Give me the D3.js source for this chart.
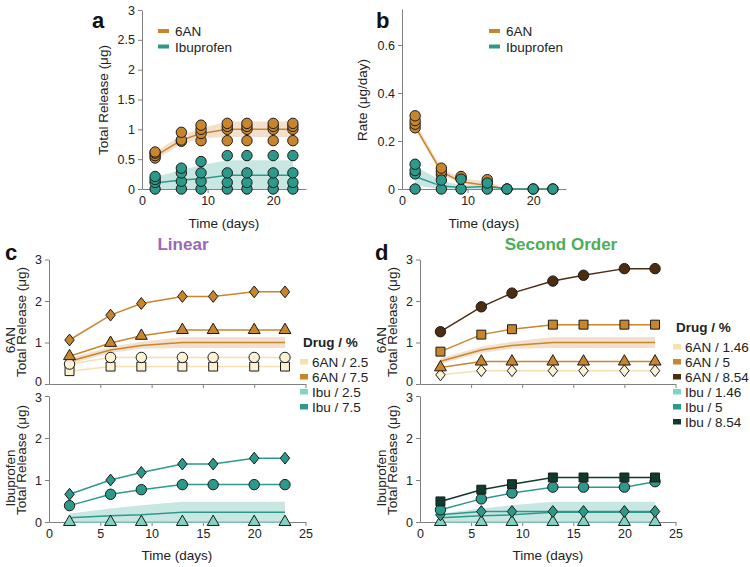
<!DOCTYPE html>
<html>
<head>
<meta charset="utf-8">
<script src="https://cdn.jsdelivr.net/npm/d3@7"></script>
<style>
  body { margin: 0; background: #fff; }
  svg { font-family: "Liberation Sans", Arial, sans-serif; }
</style>
</head>
<body>
<svg id="chart" width="750" height="567"></svg>
<script>
// sampling days
const days = [2, 6, 9, 13, 16, 20, 23];

// panel a: replicate totals (ug)
const repAN = [
  [0.52, 0.56, 0.6, 0.62],
  [0.8, 0.82, 0.95],
  [0.81, 0.93, 1.0, 1.07],
  [0.81, 1.0, 1.05, 1.1],
  [0.81, 1.0, 1.05, 1.1],
  [0.81, 1.0, 1.05, 1.1],
  [0.81, 1.0, 1.05, 1.1]
];
const repIbu = [
  [0, 0.11, 0.16, 0.21],
  [0, 0.13, 0.27, 0.35],
  [0, 0.13, 0.27, 0.46],
  [0, 0.11, 0.27, 0.56],
  [0, 0.11, 0.27, 0.56],
  [0, 0.11, 0.27, 0.56],
  [0, 0.11, 0.27, 0.56]
];
const meanAN = [0.55, 0.82, 0.93, 1.0, 1.0, 1.0, 1.0];
const loAN = [0.49, 0.75, 0.85, 0.87, 0.87, 0.87, 0.87];
const hiAN = [0.62, 0.9, 1.02, 1.13, 1.13, 1.13, 1.13];
const meanIbu = [0.1, 0.15, 0.17, 0.23, 0.23, 0.23, 0.23];
const loIbu = [0, 0, 0, 0, 0, 0, 0];
const hiIbu = [0.2, 0.32, 0.4, 0.48, 0.48, 0.48, 0.48];

// panel b: release rate (ug/day)
const rateAN = [[0.255, 0.27, 0.285, 0.305], [0.06, 0.073, 0.087], [0.045, 0.052], [0.028, 0.039], [0], [0], [0]];
const rateIbu = [[0, 0.063, 0.077, 0.103], [0, 0.037], [0, 0.041], [0, 0.025], [0], [0], [0]];
const rateMeanAN = [0.26, 0.072, 0.03, 0.015, 0, 0, 0];
const rateLoAN = [0.25, 0.06, 0.022, 0.005, 0, 0, 0];
const rateHiAN = [0.28, 0.085, 0.045, 0.03, 0, 0, 0];
const rateMeanIbu = [0.052, 0.012, 0.006, 0.01, 0, 0, 0];
const rateLoIbu = [0.015, 0, 0, 0, 0, 0, 0];
const rateHiIbu = [0.095, 0.035, 0.015, 0.02, 0, 0, 0];

// panel c: linear
const linAN75a = [1.06, 1.66, 1.94, 2.11, 2.11, 2.22, 2.22];
const linAN75b = [0.67, 0.99, 1.16, 1.3, 1.3, 1.3, 1.3];
const linAN25a = [0.48, 0.64, 0.64, 0.64, 0.64, 0.64, 0.64];
const linAN25b = [0.31, 0.42, 0.42, 0.42, 0.42, 0.42, 0.42];
const linIbu75a = [0.66, 1.0, 1.18, 1.38, 1.38, 1.52, 1.52];
const linIbu75b = [0.39, 0.66, 0.77, 0.89, 0.89, 0.89, 0.89];
const linIbu25a = [0, 0, 0, 0, 0, 0, 0];
const linLegend = ['6AN / 2.5', '6AN / 7.5', 'Ibu / 2.5', 'Ibu / 7.5'];

// panel d: second order
const soAN854 = [1.26, 1.86, 2.19, 2.48, 2.62, 2.78, 2.78];
const soAN5a = [0.78, 1.19, 1.32, 1.43, 1.43, 1.43, 1.43];
const soAN5b = [0.4, 0.54, 0.54, 0.54, 0.54, 0.54, 0.54];
const soAN146 = [0.22, 0.32, 0.32, 0.32, 0.32, 0.32, 0.32];
const soIbu854 = [0.49, 0.77, 0.9, 1.06, 1.06, 1.06, 1.06];
const soIbu5a = [0.29, 0.55, 0.69, 0.83, 0.83, 0.83, 0.96];
const soIbu5b = [0.17, 0.25, 0.25, 0.25, 0.25, 0.25, 0.25];
const soIbu146 = [0, 0, 0, 0, 0, 0, 0];
const soLegend = ['6AN / 1.46', '6AN / 5', '6AN / 8.54', 'Ibu / 1.46', 'Ibu / 5', 'Ibu / 8.54'];

const C = {
  an: '#c9852c', anLight: '#f5e0b0', anLightFill: '#fcf1d4', anDark: '#4e2c10',
  ibu: '#2b9a8b', ibuLight: '#80d5c2', ibuDark: '#0f3b2e',
  anBand: '#f2e0cc', ibuBand: '#c9e7e2', axis: '#808080', text: '#222'
};

const svg = d3.select('#chart');

// custom diamond, a bit squatter than d3's
const diamond = {
  draw(ctx, size) {
    const h = Math.sqrt(size / 1.6), w = h * 0.8;
    ctx.moveTo(0, -h); ctx.lineTo(w, 0); ctx.lineTo(0, h); ctx.lineTo(-w, 0); ctx.closePath();
  }
};
const SHAPES = {
  circle: [d3.symbolCircle, 85],
  square: [d3.symbolSquare, 80],
  triangle: [d3.symbolTriangle, 62],
  diamond: [diamond, 56]
};

function axes(o) {
  const x = d3.scaleLinear().domain([0, 25]).range([o.left, o.right]);
  const y = d3.scaleLinear().domain([0, o.ymax]).range([o.bottom, o.top]);
  const gx = svg.append('g')
    .attr('transform', `translate(0,${o.bottom})`)
    .call(d3.axisBottom(x).tickValues(o.xt).tickSize(4).tickSizeOuter(0)
      .tickFormat(o.xlab ? d3.format('d') : ''));
  const gy = svg.append('g')
    .attr('transform', `translate(${o.left},0)`)
    .call(d3.axisLeft(y).tickValues(o.yt).tickSize(4).tickSizeOuter(0)
      .tickFormat(d3.format('~g')));
  [gx, gy].forEach((g) => {
    g.select('.domain').attr('stroke', C.axis);
    g.selectAll('.tick line').attr('stroke', C.axis);
    g.selectAll('.tick text').attr('font-size', 12.5).attr('fill', C.text).attr('font-family', null);
  });
  gx.select('.tick line').remove();
  // stacked panels: nudge the end labels apart
  if (o.nudge === 'up') gy.selectAll('.tick text').filter((d) => d === 0).attr('dy', '0.1em');
  if (o.nudge === 'down') gy.selectAll('.tick text').filter((d) => d === o.ymax).attr('dy', '0.45em');
  const g = svg.append('g');
  return { x, y, g };
}

function band(p, lo, hi, color) {
  p.g.append('path')
    .datum(days.map((d, i) => [d, lo[i], hi[i]]))
    .attr('fill', color)
    .attr('d', d3.area().x((d) => p.x(d[0])).y0((d) => p.y(d[1])).y1((d) => p.y(d[2])));
}

function line(p, vals, color, w) {
  p.g.append('path')
    .datum(days.map((d, i) => [d, vals[i]]))
    .attr('fill', 'none')
    .attr('stroke', color)
    .attr('stroke-width', w || 1.5)
    .attr('d', d3.line().x((d) => p.x(d[0])).y((d) => p.y(d[1])));
}

function markers(p, pts, shape, fill) {
  const [type, size] = SHAPES[shape];
  p.g.append('g')
    .selectAll('path')
    .data(pts)
    .join('path')
    .attr('transform', (d) => `translate(${p.x(d[0])},${p.y(d[1])})`)
    .attr('d', d3.symbol().type(type).size(size))
    .attr('fill', fill)
    .attr('stroke', '#1a1a1a')
    .attr('stroke-width', 1);
}

const series = (vals) => days.map((d, i) => [d, vals[i]]);
const reps = (arr) => arr.flatMap((vs, i) => vs.map((v) => [days[i], v]));

function text(x, y, str, opts) {
  const t = svg.append('text').attr('x', x).attr('y', y).text(str)
    .attr('font-size', opts.size || 13).attr('fill', opts.fill || C.text);
  if (opts.anchor) t.attr('text-anchor', opts.anchor);
  if (opts.bold) t.attr('font-weight', 'bold');
  if (opts.rotate) t.attr('transform', `rotate(-90,${x},${y})`);
  return t;
}

// ---- panel a
const pa = axes({ left: 142, right: 306, bottom: 189, top: 10, ymax: 3, xt: [0, 10, 20], xlab: true, yt: [0, 0.5, 1, 1.5, 2, 2.5, 3] });
band(pa, loAN, hiAN, C.anBand);
band(pa, loIbu, hiIbu, C.ibuBand);
line(pa, meanAN, C.an);
line(pa, meanIbu, C.ibu);
markers(pa, reps(repAN), 'circle', C.an);
markers(pa, reps(repIbu), 'circle', C.ibu);

// ---- panel b
const pb = axes({ left: 402, right: 566, bottom: 189, top: 9, ymax: 0.75, xt: [0, 10, 20], xlab: true, yt: [0, 0.2, 0.4, 0.6] });
band(pb, rateLoAN, rateHiAN, C.anBand);
band(pb, rateLoIbu, rateHiIbu, C.ibuBand);
line(pb, rateMeanAN, C.an);
line(pb, rateMeanIbu, C.ibu);
markers(pb, reps(rateAN), 'circle', C.an);
markers(pb, reps(rateIbu), 'circle', C.ibu);

// legends a, b
[158, 489].forEach((lx) => {
  [['6AN', C.an], ['Ibuprofen', C.ibu]].forEach(([lab, col], i) => {
    svg.append('rect').attr('x', lx).attr('y', 29 + i * 15.5).attr('width', 11).attr('height', 4).attr('fill', col);
    text(lx + 17, 36 + i * 15.5, lab, { size: 13.5 });
  });
});

// ---- panel c
const pcTop = axes({ left: 49, right: 305.5, bottom: 384, top: 259.5, ymax: 3, xt: [0, 5, 10, 15, 20, 25], xlab: false, yt: [0, 1, 2, 3], nudge: 'up' });
band(pcTop, loAN, hiAN, C.anBand);
line(pcTop, meanAN, C.an);
line(pcTop, linAN25a, C.anLight);
line(pcTop, linAN25b, C.anLight);
line(pcTop, linAN75b, C.an);
line(pcTop, linAN75a, C.an);
markers(pcTop, series(linAN25b), 'square', C.anLightFill);
markers(pcTop, series(linAN25a), 'circle', C.anLightFill);
markers(pcTop, series(linAN75b), 'triangle', C.an);
markers(pcTop, series(linAN75a), 'diamond', C.an);

const pcBot = axes({ left: 49, right: 305.5, bottom: 522, top: 396, ymax: 3, xt: [0, 5, 10, 15, 20, 25], xlab: true, yt: [0, 1, 2, 3], nudge: 'down' });
band(pcBot, loIbu, hiIbu, C.ibuBand);
line(pcBot, meanIbu, C.ibu);
line(pcBot, linIbu25a, C.ibuLight);
line(pcBot, linIbu75b, C.ibu);
line(pcBot, linIbu75a, C.ibu);
markers(pcBot, series(linIbu25a), 'triangle', C.ibuLight);
markers(pcBot, series(linIbu75b), 'circle', C.ibu);
markers(pcBot, series(linIbu75a), 'diamond', C.ibu);

// ---- panel d
const pdTop = axes({ left: 420, right: 675.5, bottom: 384, top: 259.5, ymax: 3, xt: [0, 5, 10, 15, 20, 25], xlab: false, yt: [0, 1, 2, 3], nudge: 'up' });
band(pdTop, loAN, hiAN, C.anBand);
line(pdTop, meanAN, C.an);
line(pdTop, soAN146, C.anLight);
line(pdTop, soAN5b, C.an);
line(pdTop, soAN5a, C.an);
line(pdTop, soAN854, C.anDark);
markers(pdTop, series(soAN146), 'diamond', C.anLightFill);
markers(pdTop, series(soAN5b), 'triangle', C.an);
markers(pdTop, series(soAN5a), 'square', C.an);
markers(pdTop, series(soAN854), 'circle', C.anDark);

const pdBot = axes({ left: 420, right: 675.5, bottom: 522, top: 396, ymax: 3, xt: [0, 5, 10, 15, 20, 25], xlab: true, yt: [0, 1, 2, 3], nudge: 'down' });
band(pdBot, loIbu, hiIbu, C.ibuBand);
line(pdBot, meanIbu, C.ibu);
line(pdBot, soIbu146, C.ibuLight);
line(pdBot, soIbu5b, C.ibu);
line(pdBot, soIbu5a, C.ibu);
line(pdBot, soIbu854, C.ibuDark);
markers(pdBot, series(soIbu146), 'triangle', C.ibuLight);
markers(pdBot, series(soIbu5b), 'diamond', C.ibu);
markers(pdBot, series(soIbu5a), 'circle', C.ibu);
markers(pdBot, series(soIbu854), 'square', C.ibuDark);

// legends c, d
function drugLegend(lx, ly, labels, colors) {
  text(lx, ly, 'Drug / %', { size: 13.5, bold: true });
  labels.forEach((lab, i) => {
    const cy = ly + 15 + i * 15;
    svg.append('rect').attr('x', lx - 3).attr('y', cy - 3).attr('width', 8).attr('height', 5.5).attr('fill', colors[i]);
    text(lx + 9, cy + 5, lab, { size: 13.5 });
  });
}
drugLegend(303, 347, linLegend, [C.anLight, C.an, C.ibuLight, C.ibu]);
drugLegend(676, 332, soLegend, [C.anLight, C.an, C.anDark, C.ibuLight, C.ibu, C.ibuDark]);

// titles and labels
text(92, 28, 'a', { size: 22, bold: true, fill: '#111' });
text(376, 28, 'b', { size: 22, bold: true, fill: '#111' });
text(5, 260, 'c', { size: 22, bold: true, fill: '#111' });
text(375, 260, 'd', { size: 22, bold: true, fill: '#111' });
text(183, 250, 'Linear', { size: 17, bold: true, fill: '#9b67b5', anchor: 'middle' });
text(561, 250, 'Second Order', { size: 17, bold: true, fill: '#4aae55', anchor: 'middle' });

text(224, 228, 'Time (days)', { size: 13.5, anchor: 'middle' });
text(484, 228, 'Time (days)', { size: 13.5, anchor: 'middle' });
text(177, 560, 'Time (days)', { size: 13.5, anchor: 'middle' });
text(548, 560, 'Time (days)', { size: 13.5, anchor: 'middle' });

text(108, 100, 'Total Release (\u03bcg)', { size: 13.5, anchor: 'middle', rotate: true });
text(367, 100, 'Rate (\u03bcg/day)', { size: 13.5, anchor: 'middle', rotate: true });

[[0, 322, '6AN'], [0, 460, 'Ibuprofen'], [371, 322, '6AN'], [371, 460, 'Ibuprofen']].forEach(([ox, cy, drug]) => {
  text(ox + 15, cy + 18, drug, { size: 13.5, anchor: 'middle', rotate: true });
  text(ox + 26, cy, 'Total Release (\u03bcg)', { size: 13.5, anchor: 'middle', rotate: true });
});
</script>
</body>
</html>
